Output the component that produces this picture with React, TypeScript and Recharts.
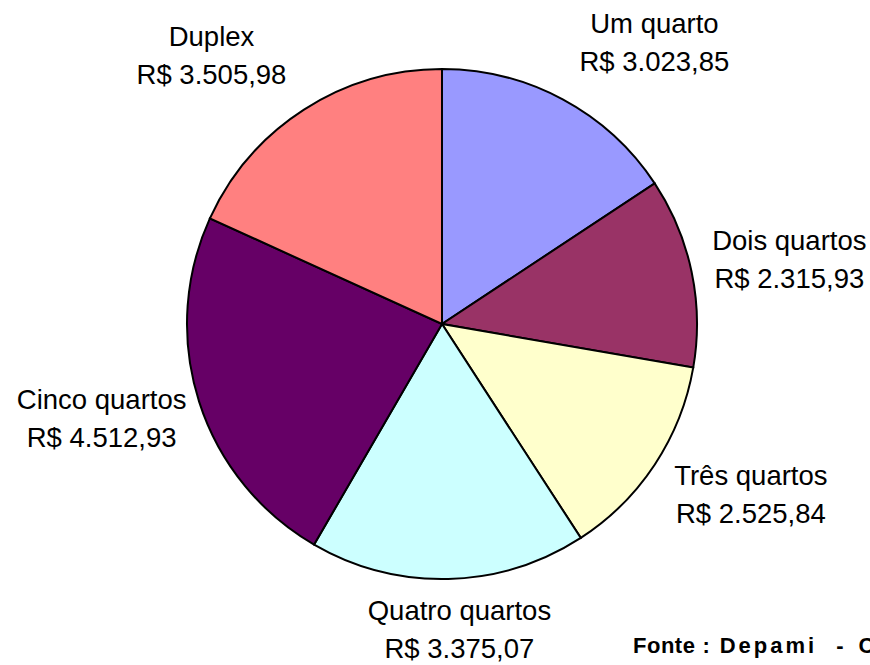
import React from 'react';
import { PieChart, Pie, Cell } from 'recharts';

const categories = ['Um quarto', 'Dois quartos', 'Três quartos', 'Quatro quartos', 'Cinco quartos', 'Duplex'];
const values = [3023.85, 2315.93, 2525.84, 3375.07, 4512.93, 3505.98];
const colors = ['#9999FF', '#993366', '#FFFFCC', '#CCFFFF', '#660066', '#FF8080'];

const data = categories.map((name, i) => ({ name, value: values[i] }));

const fmt = (v: number) =>
    'R$ ' + v.toLocaleString('pt-BR', { minimumFractionDigits: 2, maximumFractionDigits: 2 });

const RAD = Math.PI / 180;

// labels sit outside the slice, pushed away from the pie like Excel's best fit
const renderLabel = (props: any) => {
    const { cx, cy, midAngle, outerRadius, index } = props;
    const c = Math.cos(midAngle * RAD);
    const s = Math.sin(midAngle * RAD);
    const k = Math.max(-1, Math.min(1, c * 5));
    const x = cx + (outerRadius + 12) * c + 86 * k;
    const y = cy - (313 + 8 * s) * s;
    return (
        <text
            key={`lbl-${index}`}
            textAnchor="middle"
            fill="#000"
            fontSize={27.5}
            fontFamily="'Liberation Sans', Arial, sans-serif"
        >
            <tspan x={x} y={y - 9}>{categories[index]}</tspan>
            <tspan x={x} y={y + 29}>{fmt(values[index])}</tspan>
        </text>
    );
};

export default function App() {
    return (
        <div style={{ position: 'fixed', left: 0, top: 0, width: 870, height: 665, overflow: 'hidden', background: '#fff' }}>
            <PieChart width={870} height={665}>
                <Pie
                    data={data}
                    dataKey="value"
                    nameKey="name"
                    cx={437}
                    cy={319}
                    outerRadius={255}
                    startAngle={90}
                    endAngle={-270}
                    stroke="#000"
                    strokeWidth={2}
                    label={renderLabel}
                    labelLine={false}
                    isAnimationActive={false}
                >
                    {data.map((entry, index) => (
                        <Cell key={`cell-${index}`} fill={colors[index]} />
                    ))}
                </Pie>
            </PieChart>
            <div
                style={{
                    position: 'absolute',
                    left: 633,
                    top: 633,
                    whiteSpace: 'nowrap',
                    fontFamily: "'Liberation Sans', Arial, sans-serif",
                    fontWeight: 'bold',
                    fontSize: 22,
                    color: '#000',
                }}
            >
                <span style={{ letterSpacing: 0.5 }}>Fonte</span>
                <span style={{ marginLeft: 7 }}>:</span>
                <span style={{ marginLeft: 10, letterSpacing: 3 }}>Depami</span>
                <span style={{ marginLeft: 19 }}>-</span>
                <span style={{ marginLeft: 15 }}>C</span>
            </div>
        </div>
    );
}
